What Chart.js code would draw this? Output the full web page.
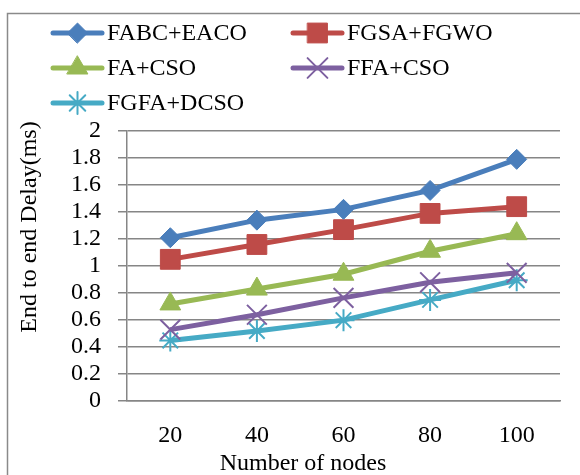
<!DOCTYPE html>
<html>
<head>
<meta charset="utf-8">
<script src="https://cdn.jsdelivr.net/npm/chart.js@4/dist/chart.umd.min.js"></script>
<style>
html,body{margin:0;padding:0;background:#fff;}
#wrap{width:580px;height:475px;position:relative;}
</style>
</head>
<body>
<div id="wrap"><canvas id="c" width="580" height="475"></canvas></div>
<script>
const categories = ["20", "40", "60", "80", "100"];
const seriesNames = ["FABC+EACO", "FGSA+FGWO", "FA+CSO", "FFA+CSO", "FGFA+DCSO"];
const fabcEaco = [1.21, 1.34, 1.42, 1.56, 1.79];
const fgsaFgwo = [1.05, 1.16, 1.27, 1.39, 1.44];
const faCso    = [0.72, 0.83, 0.94, 1.11, 1.24];
const ffaCso   = [0.53, 0.64, 0.765, 0.88, 0.95];
const fgfaDcso = [0.45, 0.52, 0.60, 0.75, 0.895];
const yTickValues = [0, 0.2, 0.4, 0.6, 0.8, 1, 1.2, 1.4, 1.6, 1.8, 2];
const xTitle = "Number of nodes";
const yTitle = "End to end Delay(ms)";

const FONT = "'Liberation Serif', 'Times New Roman', serif";
const styles = [
  {color:'#4A7EBB', point:'rectRot',  radius:10, bw:1},
  {color:'#BE4B48', point:'rect',     radius:14, bw:1},
  {color:'#98B954', point:'triangle', radius:12, bw:1},
  {color:'#7D60A0', point:'crossRot', radius:14, bw:2},
  {color:'#46AAC5', point:'star',     radius:11, bw:2}
];
const values = [fabcEaco, fgsaFgwo, faCso, ffaCso, fgfaDcso];

const datasets = values.map((v, i) => ({
  label: seriesNames[i],
  data: v,
  borderColor: styles[i].color,
  backgroundColor: styles[i].color,
  borderWidth: 5,
  pointStyle: styles[i].point,
  pointRadius: styles[i].radius,
  pointBorderWidth: styles[i].bw,
  pointBackgroundColor: styles[i].color,
  pointBorderColor: styles[i].color,
  tension: 0
}));

function drawMarker(ctx, st, x, y) {
  ctx.save();
  ctx.fillStyle = st.color;
  ctx.strokeStyle = st.color;
  ctx.lineWidth = st.bw;
  if (Chart.helpers && Chart.helpers.drawPoint) {
    Chart.helpers.drawPoint(ctx, {pointStyle: st.point, radius: st.radius, rotation: 0, borderWidth: st.bw}, x, y);
  }
  ctx.restore();
}

const customPlugin = {
  id: 'custom',
  afterDraw(chart) {
    const ctx = chart.ctx;
    ctx.save();
    ctx.strokeStyle = '#8a8a8a';
    ctx.lineWidth = 1.5;
    ctx.strokeRect(7.5, 13.5, 700, 700);
    const cols = [53, 293];
    const rows = [33, 68, 103];
    ctx.font = "24px " + FONT;
    ctx.textBaseline = 'middle';
    ctx.textAlign = 'left';
    chart.data.datasets.forEach((ds, i) => {
      const x = cols[i % 2], y = rows[Math.floor(i / 2)];
      const st = styles[i];
      ctx.strokeStyle = st.color;
      ctx.lineWidth = 5;
      ctx.lineCap = 'round';
      ctx.beginPath();
      ctx.moveTo(x, y); ctx.lineTo(x + 49, y);
      ctx.stroke();
      drawMarker(ctx, st, x + 24.5, y);
      ctx.fillStyle = '#000';
      ctx.fillText(ds.label, x + 54, y + 1);
    });
    ctx.fillStyle = '#000';
    ctx.font = "24px " + FONT;
    ctx.textAlign = 'center';
    ctx.fillText(xTitle, 303, 464);
    ctx.translate(30, 227);
    ctx.rotate(-Math.PI / 2);
    ctx.fillText(yTitle, 0, 0);
    ctx.restore();
  }
};

new Chart(document.getElementById('c'), {
  type: 'line',
  data: { labels: categories, datasets: datasets },
  options: {
    responsive: false,
    animation: false,
    events: [],
    layout: { padding: { top: 131, left: 54, right: 20, bottom: 5 } },
    plugins: { legend: { display: false }, tooltip: { enabled: false } },
    scales: {
      x: {
        offset: true,
        grid: { display: false, drawTicks: false },
        border: { display: true, color: '#868686', width: 1.5 },
        ticks: { color: '#000', font: { family: FONT, size: 24 }, padding: 20, autoSkip: false, maxRotation: 0 }
      },
      y: {
        min: 0, max: 2,
        afterBuildTicks: (axis) => { axis.ticks = yTickValues.map(v => ({ value: v })); },
        grid: { color: '#868686', lineWidth: 1.5, tickLength: 9, drawTicks: true },
        border: { display: true, color: '#868686', width: 1.5 },
        ticks: {
          color: '#000', font: { family: FONT, size: 24 }, padding: 17, autoSkip: false,
          callback: (v) => String(Math.round(v * 10) / 10)
        }
      }
    }
  },
  plugins: [customPlugin]
});
</script>
</body>
</html>
